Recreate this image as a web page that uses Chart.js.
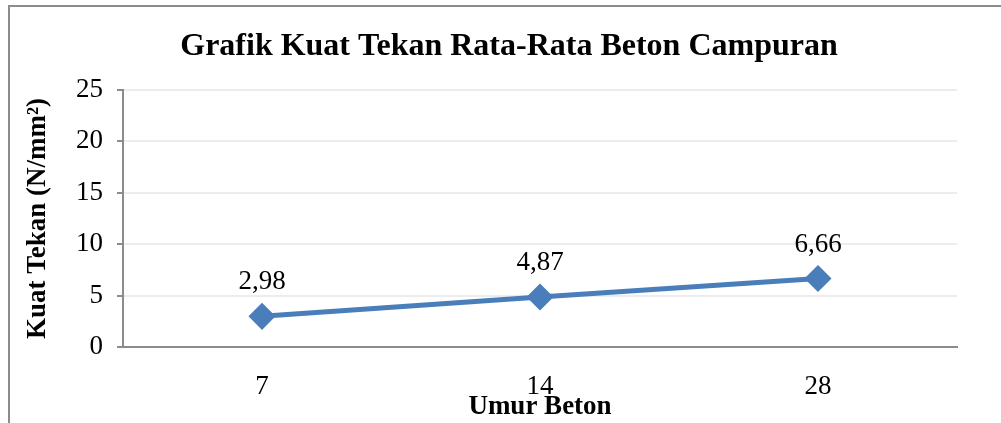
<!DOCTYPE html>
<html>
<head>
<meta charset="utf-8">
<script src="https://cdn.jsdelivr.net/npm/chart.js@4"></script>
<style>
  html, body { margin: 0; padding: 0; background: #fff; }
  #wrap { position: relative; width: 1001px; height: 423px; overflow: hidden; }
  #frame { position: absolute; left: 8px; top: 5px; width: 1100px; height: 500px;
           border-left: 2px solid #8c8c8c; border-top: 2px solid #8c8c8c; }
  canvas { position: absolute; left: 0; top: 0; }
</style>
</head>
<body>
<div id="wrap">
  <div id="frame"></div>
  <canvas id="chart" width="1001" height="423"></canvas>
</div>
<script>
const umurBeton = ["7", "14", "28"];
const kuatTekan = [2.98, 4.87, 6.66];
const yTicks = [0, 5, 10, 15, 20, 25];
const judul = "Grafik Kuat Tekan Rata-Rata Beton Campuran";

const serif = "'Liberation Serif', 'Times New Roman', serif";

// title is centred on the whole framed chart, which runs past the right edge
const judulPlugin = {
  id: "judul",
  afterDraw(chart) {
    const ctx = chart.ctx;
    ctx.save();
    ctx.font = "bold 32px " + serif;
    ctx.fillStyle = "#000";
    ctx.textAlign = "center";
    ctx.textBaseline = "middle";
    ctx.fillText(judul, 509, 47);
    ctx.restore();
  },
};

const valueLabels = {
  id: "valueLabels",
  afterDatasetsDraw(chart) {
    const ctx = chart.ctx;
    const meta = chart.getDatasetMeta(0);
    ctx.save();
    ctx.font = "27px " + serif;
    ctx.fillStyle = "#000";
    ctx.textAlign = "center";
    ctx.textBaseline = "middle";
    meta.data.forEach(function (pt, i) {
      ctx.fillText(kuatTekan[i].toFixed(2).replace(".", ","), pt.x, pt.y - 34);
    });
    ctx.restore();
  },
};

new Chart(document.getElementById("chart"), {
  type: "line",
  data: {
    labels: umurBeton,
    datasets: [
      {
        data: kuatTekan,
        borderColor: "#4a7ebb",
        backgroundColor: "#4a7ebb",
        borderWidth: 5,
        tension: 0,
        pointStyle: "rectRot",
        pointRadius: 10,
        pointHoverRadius: 10,
      },
    ],
  },
  options: {
    responsive: false,
    animation: false,
    layout: { padding: { left: 0, right: 44, top: 90, bottom: 0 } },
    plugins: {
      legend: { display: false },
      tooltip: { enabled: false },
      title: { display: false },
    },
    scales: {
      x: {
        offset: true,
        grid: { display: false },
        border: { color: "#8c8c8c", width: 2 },
        ticks: { color: "#000", font: { family: serif, size: 27 }, padding: 16 },
        title: {
          display: true,
          text: "Umur Beton",
          color: "#000",
          font: { family: serif, size: 27, weight: "bold" },
          padding: { top: 0, bottom: 0 },
        },
        afterFit: function (s) { s.height = 76; },
      },
      y: {
        min: 0,
        max: 25,
        afterBuildTicks: function (s) { s.ticks = yTicks.map(function (v) { return { value: v }; }); },
        grid: { color: "#ececec", lineWidth: 2, tickColor: "#8c8c8c", tickLength: 6, tickWidth: 2 },
        border: { color: "#8c8c8c", width: 2 },
        ticks: { color: "#000", font: { family: serif, size: 27 }, padding: 14 },
        title: {
          display: true,
          text: "Kuat Tekan (N/mm²)",
          color: "#000",
          font: { family: serif, size: 27, weight: "bold" },
          padding: { top: 22, bottom: 0 },
        },
        afterFit: function (s) { s.width = 123; },
      },
    },
  },
  plugins: [valueLabels, judulPlugin],
});
</script>
</body>
</html>
